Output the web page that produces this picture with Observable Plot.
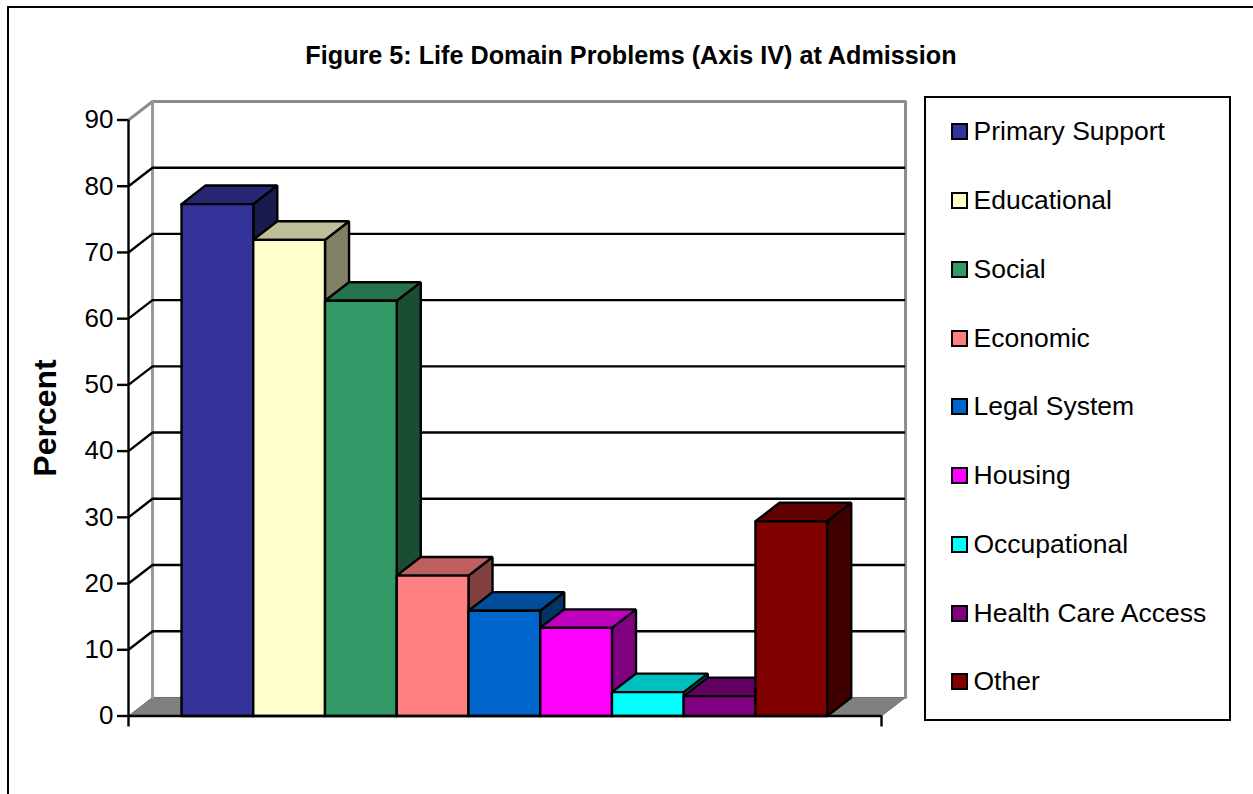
<!DOCTYPE html>
<html>
<head>
<meta charset="utf-8">
<script src="https://cdn.jsdelivr.net/npm/d3@7"></script>
<script src="https://cdn.jsdelivr.net/npm/@observablehq/plot@0.6"></script>
<style>
  html, body { margin: 0; padding: 0; background: #fff; overflow: hidden; }
  body { width: 1253px; height: 794px; position: relative; font-family: "Liberation Sans", Arial, sans-serif; color: #000; }
  #frame { position: absolute; left: 7px; top: 6px; width: 1300px; height: 900px; border: 2px solid #000; box-sizing: border-box; }
  #chart { position: absolute; left: 0; top: 0; }
  #chart svg { display: block; background: transparent; }
  #title { position: absolute; left: 0; width: 1262px; top: 41px; text-align: center; font-weight: bold; font-size: 25.2px; line-height: 28px; white-space: nowrap; }
  #legend { position: absolute; left: 923.5px; top: 95.5px; width: 307.5px; height: 625px; border: 2.5px solid #000; box-sizing: border-box; background: #fff; padding-bottom: 2.4px; display: flex; flex-direction: column; }
  .item { flex: 1; display: flex; align-items: center; padding-left: 25px; font-size: 26.5px; white-space: nowrap; }
  .swatch { width: 17px; height: 17px; border: 2px solid #000; box-sizing: border-box; margin-right: 6px; flex: none; }
</style>
</head>
<body>
<div id="frame"></div>
<div id="chart"></div>
<div id="title">Figure 5: Life Domain Problems (Axis IV) at Admission</div>
<div id="legend"></div>
<script>
// Share of admissions with each Axis IV life domain problem
const categories = ["Primary Support", "Educational", "Social", "Economic", "Legal System", "Housing", "Occupational", "Health Care Access", "Other"];
const percents = [77.3, 71.9, 62.7, 21.2, 15.9, 13.3, 3.6, 3.0, 29.4];
const frontColors = ["#333399", "#ffffcc", "#339966", "#ff8080", "#0066cc", "#ff00ff", "#00ffff", "#800080", "#800000"];
const yTicks = [0, 10, 20, 30, 40, 50, 60, 70, 80, 90];

// Extent of the floor in bar slots, and the receding offset of the 3D box
const xMin = -0.746, xMax = 9.75;
const depthX = 0.335, depthY = 2.8;
const barWidth = 1;
const lineWeight = 2.4;

const shade = (hex, k) => {
  const c = d3.rgb(hex);
  return d3.rgb(c.r * k, c.g * k, c.b * k).formatHex();
};

// Each bar is three closed faces, listed left to right so later bars overlap earlier ones
const faces = categories.flatMap((name, i) => {
  const v = percents[i], c = frontColors[i];
  const l = i, r = i + barWidth;
  const poly = (face, color, pts) =>
    [...pts, pts[0]].map(([x, y]) => ({x, y, face: `${name}-${face}`, color}));
  return [
    ...poly("side", shade(c, 0.5), [[r, 0], [r + depthX, depthY], [r + depthX, v + depthY], [r, v]]),
    ...poly("top", shade(c, 0.75), [[l, v], [l + depthX, v + depthY], [r + depthX, v + depthY], [r, v]]),
    ...poly("front", c, [[l, 0], [r, 0], [r, v], [l, v]])
  ];
});

const floor = [
  {x: xMin, y: 0}, {x: xMin + depthX, y: depthY},
  {x: xMax + depthX, y: depthY}, {x: xMax, y: 0}, {x: xMin, y: 0}
];
const wallOutline = [
  {x: xMin, y: 90}, {x: xMin + depthX, y: 90 + depthY},
  {x: xMax + depthX, y: 90 + depthY}, {x: xMax + depthX, y: depthY}
];
const wallCorner = [{x: xMin + depthX, y: 90 + depthY}, {x: xMin + depthX, y: depthY}];
const innerTicks = yTicks.filter(t => t > 0 && t < 90);

const chart = Plot.plot({
  width: 1253,
  height: 794,
  marginLeft: 128,
  marginRight: 372,
  marginTop: 119.5,
  marginBottom: 78.5,
  x: {domain: [xMin, xMax], axis: null},
  y: {domain: [0, 90], axis: null},
  color: {type: "identity"},
  style: {background: "transparent", fontFamily: "'Liberation Sans', Arial, sans-serif", color: "#000", overflow: "visible"},
  marks: [
    Plot.line(floor, {x: "x", y: "y", fill: "#808080", stroke: "#6e6e6e", strokeWidth: 1}),
    Plot.line(wallOutline, {x: "x", y: "y", stroke: "#8c8c8c", strokeWidth: 3, strokeLinejoin: "miter"}),
    Plot.line(wallCorner, {x: "x", y: "y", stroke: "#9a9a9a", strokeWidth: 3}),
    Plot.ruleY(innerTicks, {y: d => d + depthY, x1: xMin + depthX, x2: xMax + depthX, stroke: "#000", strokeWidth: lineWeight}),
    Plot.link(innerTicks, {x1: xMin, y1: d => d, x2: xMin + depthX, y2: d => d + depthY, stroke: "#000", strokeWidth: lineWeight}),
    Plot.line(faces, {x: "x", y: "y", z: "face", fill: "color", stroke: "#000", strokeWidth: lineWeight, strokeLinejoin: "miter", dx: -0.5}),
    Plot.ruleX([xMin], {y1: 90, y2: 0, insetBottom: -11, stroke: "#000", strokeWidth: lineWeight}),
    Plot.ruleX([xMax], {y1: 0, y2: 0, insetBottom: -11, stroke: "#000", strokeWidth: lineWeight}),
    Plot.ruleY([0], {x1: xMin, x2: xMax, stroke: "#000", strokeWidth: lineWeight}),
    Plot.axisY({ticks: yTicks, tickSize: 11, tickPadding: 4, fontSize: 26, label: null, stroke: "#000", strokeWidth: lineWeight}),
    Plot.text(["Percent"], {frameAnchor: "left", textAnchor: "middle", dx: -83, rotate: -90, fontSize: 32, fontWeight: "bold", text: d => d})
  ]
});
document.getElementById("chart").append(chart);

const legend = d3.select("#legend");
categories.forEach((name, i) => {
  const row = legend.append("div").attr("class", "item");
  row.append("div").attr("class", "swatch").style("background", frontColors[i]);
  row.append("span").text(name);
});
</script>
</body>
</html>
